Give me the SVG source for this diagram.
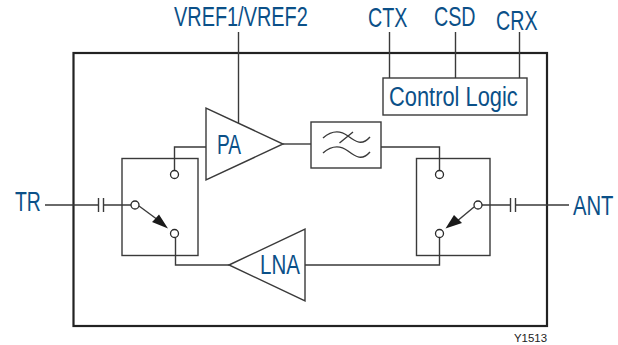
<svg xmlns="http://www.w3.org/2000/svg" width="618" height="345" viewBox="0 0 618 345">
<defs>
<style>
.l{fill:none;stroke:#3a3a3a;stroke-width:1.4}
.b{fill:#fff;stroke:#3a3a3a;stroke-width:1.4}
.o{fill:none;stroke:#222;stroke-width:2.2}
.c{fill:#fff;stroke:#2a2a2a;stroke-width:1.3}
.t{font-family:"Liberation Sans",Arial,sans-serif;font-size:27px;fill:#0b5088}
.s{font-family:"Liberation Sans",Arial,sans-serif;font-size:10px;fill:#222}
</style>
</defs>
<rect width="618" height="345" fill="#fff"/>
<g id="chip"><rect class="o" x="73.500" y="53" width="473.500" height="273"/></g>
<g id="connectors">
<path class="l" d="M45 205H98M104 205H131"/>
<path class="l" d="M98.500 198V212M103.500 198V212"/>
<path class="l" d="M174.500 170V147H206"/>
<path class="l" d="M175.500 238V265H229"/>
<path class="l" d="M238.500 32V123"/>
<path class="l" d="M283 144H311"/>
<path class="l" d="M381 147H439.500V170"/>
<path class="l" d="M305 265H439.500V238"/>
<path class="l" d="M482 205H510M516 205H569"/>
<path class="l" d="M510.500 198V212M515.500 198V212"/>
<path class="l" d="M389.500 32V78M455.500 32V78M519.500 32V78"/>
<path class="l" d="M139 206L158 220"/>
<path d="M168 228.500L152 222L155 219L159 214.500Z" fill="#1a1a1a"/>
<path class="l" d="M474 207L456 222"/>
<path d="M445.500 228.500L454 215L458 219L462 223Z" fill="#1a1a1a"/>
</g>
<g id="pa"><path class="b" d="M206 108V180L283 144Z"/><text class="t" transform="translate(217 153.500) scale(.71 1)">PA</text></g>
<g id="lna"><path class="b" d="M229 265L305 229V301Z"/><text class="t" transform="translate(260 273.500) scale(.76 1)">LNA</text></g>
<g id="filter"><rect class="b" x="311" y="122" width="70" height="46"/>
<path class="l" d="M323 138C331 131 340 130 348 136S362 146 370 137M323 153C331 146 340 145 348 151S362 161 370 152M339.500 143L353 132"/></g>
<g id="control"><rect class="b" x="383" y="78" width="144" height="37"/><text class="t" transform="translate(389 106) scale(.81 1)">Control Logic</text></g>
<g id="switch-left"><rect class="l" x="122" y="158.500" width="76" height="97"/>
<circle class="c" cx="174.500" cy="174.500" r="4"/><circle class="c" cx="135" cy="205" r="4"/><circle class="c" cx="174.500" cy="233.500" r="4"/></g>
<g id="switch-right"><rect class="l" x="416.500" y="158.500" width="73.500" height="97"/>
<circle class="c" cx="439.500" cy="174.500" r="4"/><circle class="c" cx="478" cy="205" r="4"/><circle class="c" cx="439.500" cy="233.500" r="4"/></g>
<g id="labels">
<text class="t" transform="translate(15 211) scale(.72 1)">TR</text>
<text class="t" transform="translate(573 215) scale(.75 1)">ANT</text>
<text class="t" transform="translate(174 26) scale(.737 1)">VREF1/VREF2</text>
<text class="t" transform="translate(368 27) scale(.73 1)">CTX</text>
<text class="t" transform="translate(434 26) scale(.73 1)">CSD</text>
<text class="t" transform="translate(496 29.500) scale(.73 1)">CRX</text>
<text class="s" x="514" y="342" textLength="33" lengthAdjust="spacingAndGlyphs">Y1513</text>
</g>
</svg>
